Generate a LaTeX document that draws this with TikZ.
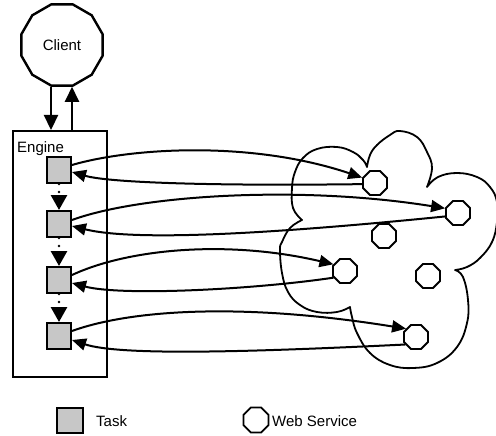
\documentclass[tikz,border=0pt]{standalone}
\usepackage{fontspec}
\setmainfont{Liberation Sans}
\usetikzlibrary{arrows.meta,shapes.geometric}
\begin{document}
\begin{tikzpicture}[x=1pt,y=-1pt,
  every node/.style={font=\fontsize{15pt}{18pt}\selectfont},
  task/.style={draw,line width=2pt,fill=black!22,minimum width=24pt,minimum height=26pt,inner sep=0pt},
  ws/.style={draw,line width=1.8pt,regular polygon,regular polygon sides=8,minimum size=26pt,inner sep=0pt},
  conn/.style={line width=2pt,-{Triangle[length=14pt,width=12pt]}},
  bigarrow/.style={line width=2.2pt,-{Triangle[length=15pt,width=14pt]}},
  dotarrow/.style={line width=2.8pt,line cap=round,dash pattern=on 0pt off 8pt,-{Triangle[length=15pt,width=16pt]}},
  cloudline/.style={line width=1.8pt,line join=round}]
\useasboundingbox (0,0) rectangle (496,436);

% cloud
\draw[cloudline]
  plot[smooth,tension=0.7] coordinates {(302,220) (293,208) (292,188) (295,172) (303,158) (317,149) (337,147) (353,152) (363,160) (367,167)}
  -- plot[smooth,tension=0.7] coordinates {(367,167) (370,155) (377,145) (390,135) (400,131) (417,137) (427,152) (432,168) (427,187)}
  -- plot[smooth,tension=0.7] coordinates {(427,187) (438,177) (457,173) (477,177) (490,187) (497,202) (497,222) (492,242) (480,258) (467,267) (455,270)}
  -- plot[smooth,tension=0.7] coordinates {(455,270) (463,277) (468,300) (467,323) (457,347) (437,363) (413,368) (390,365) (370,353) (357,333) (352,317) (350,307)}
  -- plot[smooth,tension=0.7] coordinates {(350,307) (337,312) (317,312) (300,305) (288,292) (282,273) (280,250) (282,242) (290,228) (302,220)}
  -- cycle;

% client and engine
\node[draw,line width=2.4pt,regular polygon,regular polygon sides=12,minimum size=84pt,inner sep=0pt] (client) at (62,45) {Client};
\node[draw,line width=2pt,minimum width=94pt,minimum height=246pt,inner sep=0pt] (engine) at (60,254) {};
\node[anchor=north west,inner sep=0pt] (englabel) at (17,141) {Engine};

\draw[bigarrow] ([xshift=-11pt]client.south) -- ([xshift=-11pt]client.south |- engine.north);
\draw[bigarrow] ([xshift=10pt]client.south |- engine.north) -- ([xshift=10pt]client.south);

% tasks
\node[task] (t1) at (59,170) {};
\node[task] (t2) at (59,224) {};
\node[task] (t3) at (59,280) {};
\node[task] (t4) at (59,336) {};
\draw[dotarrow] (t1.south) -- (t2.north);
\draw[dotarrow] (t2.south) -- (t3.north);
\draw[dotarrow] (t3.south) -- (t4.north);

% web services
\node[ws] (ws1) at (375,183) {};
\node[ws] (ws2) at (458,213) {};
\node[ws] (ws3) at (384,236) {};
\node[ws] (ws4) at (345,271) {};
\node[ws] (ws5) at (428,276) {};
\node[ws] (ws6) at (416,337) {};

% connectors
\draw[conn] ([yshift=5pt]t1.east) .. controls (130,148) and (250,140) .. (ws1.157);
\draw[conn] (ws1.185) .. controls (220,186) and (110,183) .. ([yshift=-2pt]t1.east);
\draw[conn] ([yshift=4pt]t2.east) .. controls (140,195) and (300,185) .. (ws2.160);
\draw[conn] (ws2.195) .. controls (300,231) and (140,243) .. ([yshift=-2pt]t2.east);
\draw[conn] ([yshift=5pt]t3.east) .. controls (130,248) and (230,240) .. (ws4.150);
\draw[conn] (ws4.210) .. controls (250,290) and (120,296) .. ([yshift=-3pt]t3.east);
\draw[conn] ([yshift=5pt]t4.east) .. controls (130,310) and (240,302) .. (ws6.140);
\draw[conn] (ws6.215) .. controls (250,352) and (120,356) .. ([yshift=-4pt]t4.east);

% legend
\node[task,minimum width=26pt,minimum height=25pt] (legtask) at (70,420) {};
\node[anchor=west,inner sep=0pt] (legtasktext) at (96,421) {Task};
\node[ws,minimum size=27pt] (legws) at (256,420) {};
\node[anchor=west,inner sep=0pt] (legwstext) at (272,421) {Web Service};
\end{tikzpicture}
\end{document}
